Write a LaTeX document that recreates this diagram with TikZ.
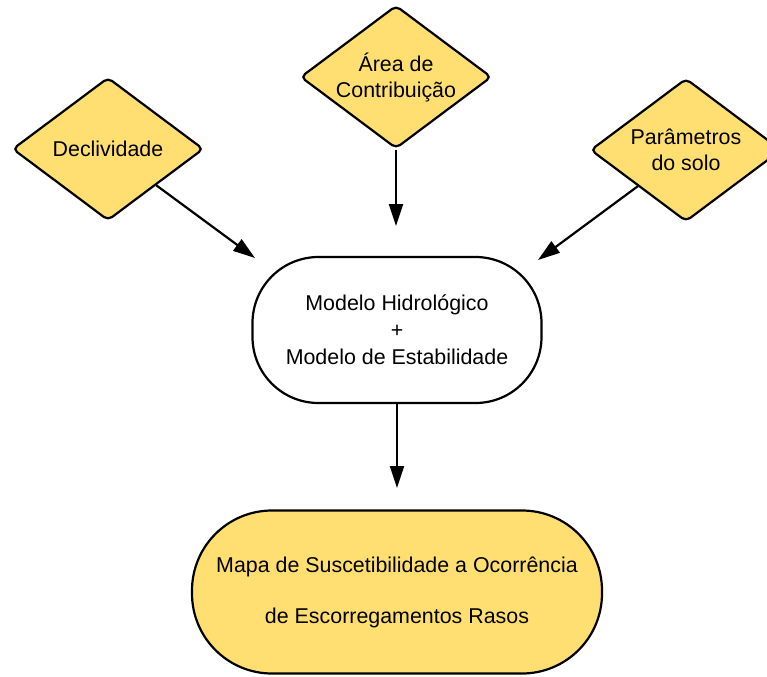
\documentclass[tikz,border=0pt]{standalone}
\usepackage{fontspec}
\setmainfont{Liberation Sans}
\usetikzlibrary{shapes.geometric,arrows.meta}
\definecolor{boxyellow}{HTML}{FFDF71}
\tikzset{
  every node/.style={font=\fontsize{10.7}{13}\selectfont},
  inputbox/.style={diamond,draw,line width=1.1pt,fill=boxyellow,rounded corners=2.5pt,
    inner sep=0pt,minimum width=95.5pt,minimum height=71.5pt,shape aspect=1.34,align=center},
  modelbox/.style={rectangle,draw,line width=1.1pt,fill=white,rounded corners=33pt,
    minimum width=144.5pt,minimum height=73pt,align=center,
    font=\fontsize{10.7}{13.5}\selectfont},
  resultbox/.style={rectangle,draw,line width=1.1pt,fill=boxyellow,rounded corners=40pt,
    minimum width=205pt,minimum height=81.5pt,align=center,
    font=\fontsize{10.7}{25.5}\selectfont},
  arr/.style={line width=1.1pt,-{Triangle[length=11pt,width=7pt]}}
}
\begin{document}
\begin{tikzpicture}[x=0.5pt,y=-0.5pt]
  \useasboundingbox (0,0) rectangle (767,676);
  % inputs
  \node[inputbox] (decl) at (108,149) {Declividade};
  \node[inputbox] (area) at (396,77) {Área de\\Contribuição};
  \node[inputbox] (param) at (686,150) {Parâmetros\\do solo};
  % coupled model
  \node[modelbox] (modelo) at (397,330) {Modelo Hidrológico\\+\\Modelo de Estabilidade};
  % resulting map
  \node[resultbox] (mapa) at (397,592) {Mapa de Suscetibilidade a Ocorrência\\de Escorregamentos Rasos};
  % arrow heads stop short of the boxes they point at
  \coordinate (inDecl) at (255,258);
  \coordinate (inArea) at (396,226);
  \coordinate (inParam) at (538,260);
  \coordinate (inMapa) at (397,488);
  \draw[arr] (decl.south east) -- (inDecl);
  \draw[arr] (area.south) -- (inArea);
  \draw[arr] (param.south west) -- (inParam);
  \draw[arr] (modelo.south) -- (inMapa);
\end{tikzpicture}
\end{document}
